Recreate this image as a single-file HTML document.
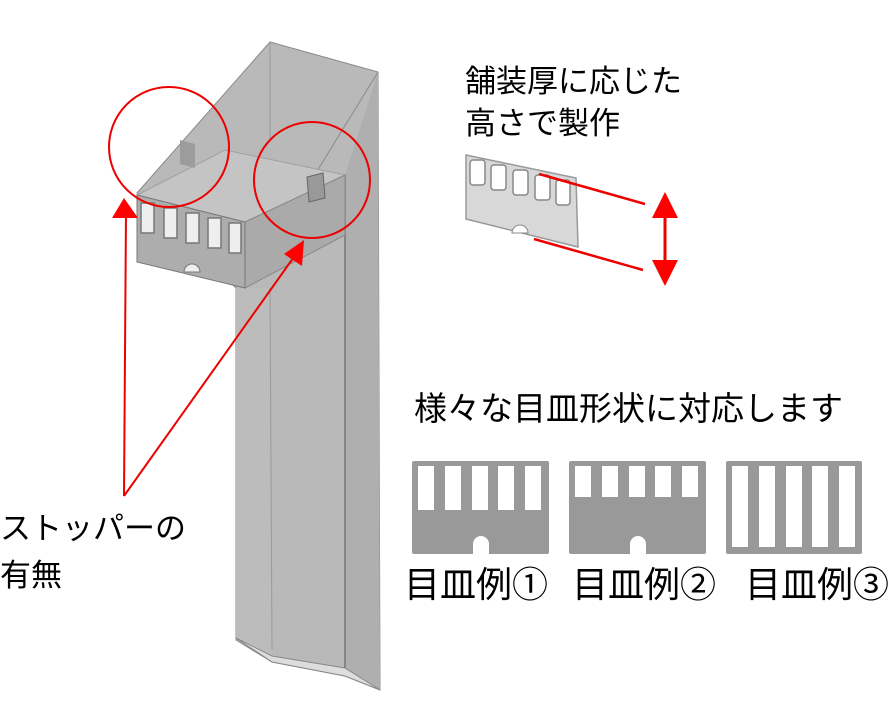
<!DOCTYPE html>
<html><head><meta charset="utf-8"><style>
body{margin:0;width:893px;height:707px;background:#fff;overflow:hidden}
svg{position:absolute;left:0;top:0}
.t{position:absolute;font-family:"Liberation Sans","Noto Sans CJK JP",sans-serif;color:#000;white-space:nowrap;line-height:1}
</style></head><body>
<svg width="893" height="707" viewBox="0 0 893 707">
<!-- column -->
<polygon points="270,42 378,72 380,690 345,676 272,662 236,640 236,288 137,193" fill="#b9b9b9" stroke="#8a8a8a" stroke-width="1"/>
<polygon points="345,175 378,72 380,690 345,668" fill="#afafaf"/>
<polygon points="236,288 270,288 272,656 236,638" fill="#bcbcbc"/>
<line x1="270" y1="42" x2="270" y2="140" stroke="#9a9a9a"/>
<line x1="378" y1="72" x2="282" y2="228" stroke="#8a8a8a"/>
<line x1="345" y1="175" x2="345" y2="668" stroke="#777" stroke-width="1.5"/>
<line x1="270" y1="288" x2="272" y2="650" stroke="#9a9a9a"/>
<polygon points="236,638 272,656 345,668 380,690 345,676 272,662" fill="#ddd" stroke="#888"/>
<!-- box head -->
<polygon points="137,195 225,150 345,175 245,222" fill="#c4c4c4" stroke="#a0a0a0"/>
<polygon points="245,222 345,175 345,235 245,288" fill="#aaa" stroke="#888"/>
<polygon points="137,195 245,222 245,288 137,262" fill="#adadad" stroke="#777"/>
<g fill="#eee" stroke="#777" stroke-width="1.5">
<rect x="141" y="203" width="13" height="30"/>
<rect x="164" y="208" width="13" height="30"/>
<rect x="186" y="213" width="13" height="30"/>
<rect x="208" y="218" width="13" height="30"/>
<rect x="229" y="223" width="12" height="30"/>
</g>
<path d="M184,272 a8,8 0 0 1 16,0 z" fill="#eee" stroke="#777"/>
<polygon points="180,140 195,144 195,168 180,164" fill="#9c9c9c"/>
<polygon points="307,177 323,173 325,198 309,202" fill="#999" stroke="#666"/>
<!-- red circles -->
<circle cx="169" cy="147" r="60" fill="none" stroke="#e00" stroke-width="2"/>
<circle cx="312" cy="180" r="58" fill="none" stroke="#e00" stroke-width="2"/>
<!-- red pointer lines -->
<line x1="124" y1="496" x2="126" y2="212" stroke="#e00" stroke-width="2"/>
<line x1="124" y1="496" x2="296" y2="254" stroke="#e00" stroke-width="2"/>
<polygon points="124,198 112,218 138,218" fill="#f00"/>
<polygon points="304,240 284,254 302,266" fill="#f00"/>
<!-- top right plate -->
<polygon points="466,155 576,178 578,247 466,219" fill="#d8d8d8" stroke="#999" stroke-width="1.5"/>
<g fill="#fff" stroke="#888" stroke-width="1.5">
<rect x="470" y="160" width="15" height="25" rx="3"/>
<rect x="491" y="165" width="15" height="25" rx="3"/>
<rect x="513" y="170" width="15" height="25" rx="3"/>
<rect x="535" y="175" width="15" height="25" rx="3"/>
<rect x="556" y="180" width="14" height="25" rx="3"/>
</g>
<path d="M512,233 a8,8 0 0 1 16,0 z" fill="#fff" stroke="#888"/>
<line x1="539" y1="174" x2="645" y2="204" stroke="#e00" stroke-width="2.5"/>
<line x1="534" y1="239" x2="643" y2="270" stroke="#e00" stroke-width="2.5"/>
<line x1="665" y1="210" x2="665" y2="262" stroke="#e00" stroke-width="3"/>
<polygon points="665,192 652,218 678,218" fill="#f00"/>
<polygon points="665,286 652,260 678,260" fill="#f00"/>
<!-- example plates -->
<rect x="412" y="461" width="137" height="93" rx="2" fill="#999"/>
<g fill="#fff"><rect x="418" y="466" width="16" height="44"/><rect x="445" y="466" width="16" height="44"/><rect x="472" y="466" width="16" height="44"/><rect x="498" y="466" width="16" height="44"/><rect x="525" y="466" width="16" height="44"/></g>
<path d="M473,554 v-10 a8,8 0 0 1 16,0 v10 z" fill="#fff"/>
<rect x="569" y="461" width="137" height="93" rx="2" fill="#999"/>
<g fill="#fff"><rect x="575" y="466" width="16" height="31"/><rect x="602" y="466" width="16" height="31"/><rect x="629" y="466" width="16" height="31"/><rect x="655" y="466" width="16" height="31"/><rect x="682" y="466" width="16" height="31"/></g>
<path d="M630,554 v-10 a8,8 0 0 1 16,0 v10 z" fill="#fff"/>
<rect x="726" y="461" width="136" height="93" rx="2" fill="#999"/>
<g fill="#fff"><rect x="732" y="466" width="16" height="81"/><rect x="759" y="466" width="16" height="81"/><rect x="786" y="466" width="16" height="81"/><rect x="812" y="466" width="16" height="81"/><rect x="839" y="466" width="16" height="81"/></g>
</svg>
<div class="t" style="left:465px;top:66px;font-size:31px">舗装厚に応じた</div>
<div class="t" style="left:465px;top:108px;font-size:31px">高さで製作</div>
<div class="t" style="left:414px;top:392px;font-size:33px">様々な目皿形状に対応します</div>
<div class="t" style="left:0px;top:513px;font-size:31px">ストッパーの</div>
<div class="t" style="left:0px;top:560px;font-size:31px">有無</div>
<div class="t" style="left:404px;top:567px;font-size:36px">目皿例①</div>
<div class="t" style="left:572px;top:567px;font-size:36px">目皿例②</div>
<div class="t" style="left:745px;top:567px;font-size:36px">目皿例③</div>
</body></html>
